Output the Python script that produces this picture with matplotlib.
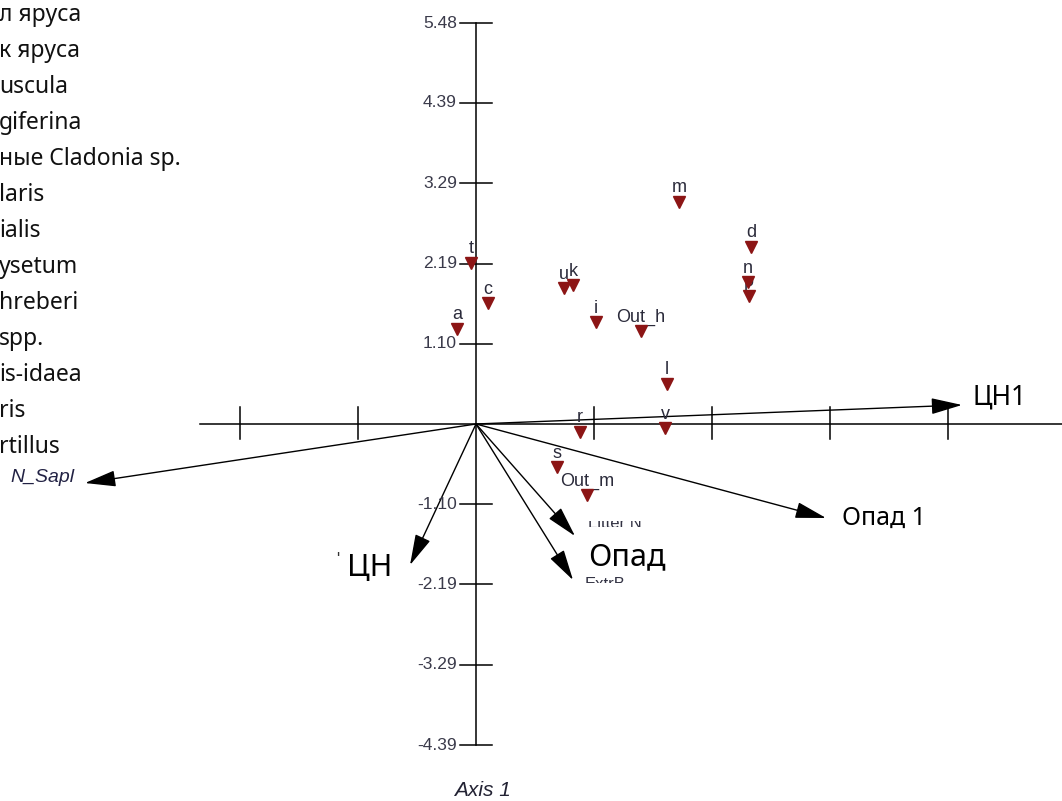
import numpy as np
import matplotlib
matplotlib.use("Agg")
import matplotlib.pyplot as plt
from matplotlib.transforms import offset_copy, Bbox, TransformedBbox

# site scores (axis units)
site_names = ["t", "c", "a", "u", "k", "i", "Out_h", "m", "d", "n", "p",
              "l", "v", "r", "s", "Out_m"]
site_x = [-0.068, 0.164, -0.260, 1.203, 1.326, 1.640, 2.256, 2.775, 3.759,
          3.718, 3.732, 2.611, 2.584, 1.422, 1.107, 1.517]
site_y = [2.201, 1.654, 1.299, 1.859, 1.900, 1.394, 1.271, 3.035, 2.420,
          1.941, 1.750, 0.547, -0.055, -0.109, -0.588, -0.971]

# biplot vectors
vec_names = ["ЦН1", "Опад 1", "N_Sapl", "ЦН", "Litter N", "ExtrB"]
vec_x = [6.644, 4.785, -5.345, -0.902, 1.353, 1.326]
vec_y = [0.260, -1.285, -0.807, -1.928, -1.531, -2.133]

y_ticks = [5.48, 4.39, 3.29, 2.19, 1.10, -1.10, -2.19, -3.29, -4.39]
x_tick_step = 1.613
x_tick_idx = [-2, -1, 1, 2, 3, 4]

legend_lines = ["л яруса", "к яруса", "uscula", "giferina",
                "ные Cladonia sp.", "laris", "ialis", "ysetum", "hreberi",
                "spp.", "is-idaea", "ris", "rtillus"]

PX = 73.15  # pixels per axis unit
W, H = 1062, 801
OX, OY = 476, 424

fig = plt.figure(figsize=(W / 100, H / 100), dpi=100)
ax = fig.add_axes([0, 0, 1, 1])
ax.set_xlim(-OX / PX, (W - OX) / PX)
ax.set_ylim((OY - H) / PX, OY / PX)
ax.axis("off")


def shifted(dx, dy):
    return offset_copy(ax.transData, fig=fig, x=dx, y=dy, units="dots")


def band(x0, y0, x1, y1):
    # clip box given in image pixels (y downwards)
    box = Bbox.from_extents((x0 - OX) / PX, (OY - y1) / PX,
                            (x1 - OX) / PX, (OY - y0) / PX)
    return TransformedBbox(box, ax.transData)


# axes lines
ax.plot([0, 0], [y_ticks[-1], y_ticks[0]], color="black", lw=1.1, zorder=1)
ax.plot([-276 / PX, 10], [0, 0], color="black", lw=1.1, zorder=1)
for v in y_ticks:
    ax.plot([-16 / PX, 16 / PX], [v, v], color="black", lw=1.1, zorder=1)
    ax.text(0, v, f"{v:.2f}", transform=shifted(-19, 0), ha="right",
            va="center", fontsize=12.5, family="Liberation Sans",
            color="#3a3a4a")
for k in x_tick_idx:
    xv = k * x_tick_step
    ax.plot([xv, xv], [-15 / PX, 17 / PX], color="black", lw=1.1, zorder=1)

ax.text(6 / PX, (OY - 790) / PX, "Axis 1", ha="center", va="center",
        fontsize=15, style="italic", family="Liberation Sans",
        color="#222233")

# vectors
for name, vx, vy in zip(vec_names, vec_x, vec_y):
    ax.annotate("", xy=(vx, vy), xytext=(0, 0),
                arrowprops=dict(arrowstyle="-|>,head_length=1.6,head_width=0.42",
                                color="black", lw=1.0, shrinkA=0, shrinkB=0,
                                mutation_scale=12), zorder=2)

lab = dict(zip(vec_names, zip(vec_x, vec_y)))
ax.text(*lab["ЦН1"], "ЦН1", transform=shifted(10, 7), ha="left", va="center",
        fontsize=19, family="Noto Sans", color="black")
ax.text(*lab["Опад 1"], "Опад 1", transform=shifted(16, 0), ha="left",
        va="center", fontsize=18, family="Noto Sans", color="black")
ax.text(*lab["N_Sapl"], "N_Sapl", transform=shifted(-10, 6), ha="right",
        va="center", fontsize=14, style="italic", family="Liberation Sans",
        color="#222244")
ax.text(*lab["ЦН"], "ЦН", transform=shifted(-18, -3), ha="right",
        va="center", fontsize=22, family="Noto Sans", color="black")
ax.text(*lab["ЦН"], "'", transform=shifted(-74, 6), ha="left",
        va="center", fontsize=12, family="Liberation Sans", color="#333")

# original labels mostly hidden under the overlay text
t1 = ax.text(*lab["Litter N"], "Litter N", transform=shifted(13, 12),
             ha="left", va="center", fontsize=12, family="Liberation Sans",
             color="#333344", zorder=3, clip_on=True)
t1.set_clip_path(None)
t1.set_clip_box(band(580, 521, 650, 527))
t2 = ax.text(*lab["ExtrB"], "ExtrB", transform=shifted(12, -4),
             ha="left", va="center", fontsize=12, family="Liberation Sans",
             color="#333344", zorder=3, clip_on=True)
t2.set_clip_path(None)
t2.set_clip_box(band(580, 577, 650, 583))
ax.text(*lab["Litter N"], "Опад", transform=shifted(13, -21), ha="left",
        va="center", fontsize=22, family="Noto Sans", color="black",
        zorder=4)

# site points
ax.plot(site_x, site_y, "v", ms=9, color="#8c1515", mec="#8c1515", zorder=3)
for name, sx, sy in zip(site_names, site_x, site_y):
    ax.text(sx, sy, name, transform=shifted(0, 14), ha="center", va="center",
            fontsize=13, family="Liberation Sans", color="#2b2b3b",
            zorder=2.5)

# cropped species list on the left
for i, line in enumerate(legend_lines):
    ax.text(-OX / PX, (OY - 21 - i * 36) / PX, line, transform=shifted(-1, 0),
            ha="left", va="baseline", fontsize=16.5, family="Noto Sans",
            color="#111111")

fig.savefig("out.png", dpi=100)
